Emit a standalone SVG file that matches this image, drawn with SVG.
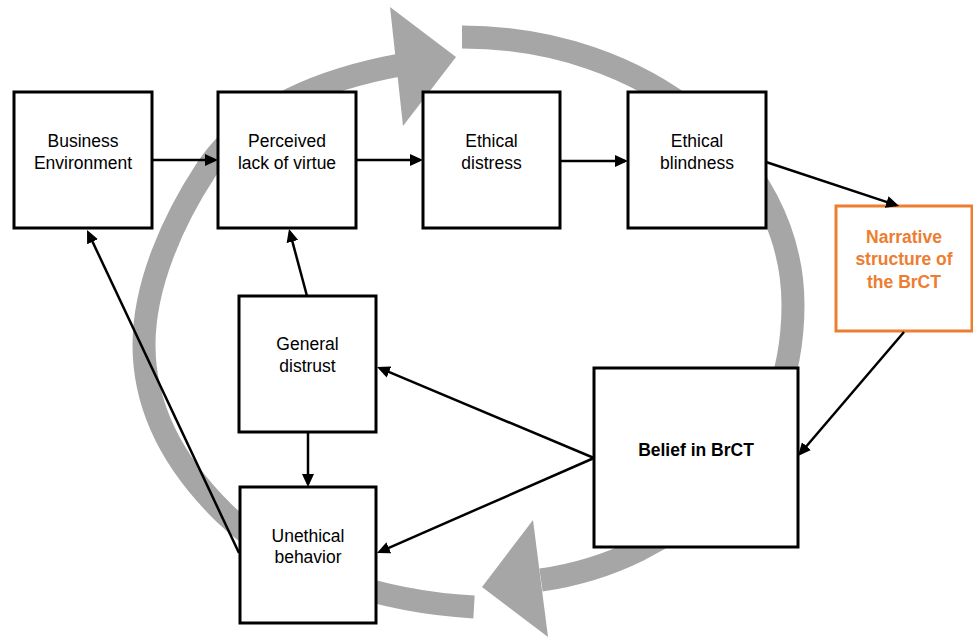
<svg xmlns="http://www.w3.org/2000/svg" width="973" height="638" viewBox="0 0 973 638">
<defs>
<style>
.band{fill:none;stroke:#a6a6a6;stroke-width:23;stroke-linecap:butt}
.head{fill:#a6a6a6}
.box{fill:#fff;stroke:#000;stroke-width:3}
.obox{fill:#fff;stroke:#ed7d31;stroke-width:3}
.t{font-family:"Liberation Sans",Arial,sans-serif;font-size:17.5px;fill:#000;text-anchor:middle}
.b{font-weight:bold}
.o{fill:#ed7d31}
.c{fill:none;stroke:#000;stroke-width:2.5}
</style>
<marker id="ah" markerUnits="userSpaceOnUse" markerWidth="13" markerHeight="12" viewBox="0 0 13 12" refX="10" refY="6" orient="auto">
<path d="M0,0 L13,6 L0,12 z" fill="#000"/>
</marker>
</defs>
<g id="cycle">
<path class="band" d="M462,37 C645,37 793,157 793,305 C793,456 680,560 541,580"/>
<polygon class="head" points="533,520 482,587 548,637"/>
<path class="band" d="M474,607 C386,602 287,574 224,513 C174,464 144,409 144,345 C144,285 173,220 206,170 C247,107 329,78 400,65"/>
<polygon class="head" points="390,7 456,57 403,126"/>
</g>
<g id="business-environment">
<rect class="box" x="14" y="92" width="138" height="136"/>
<text class="t" x="83" y="147">Business</text>
<text class="t" x="83" y="169">Environment</text>
</g>
<g id="perceived-lack-of-virtue">
<rect class="box" x="218" y="92" width="138" height="136"/>
<text class="t" x="287" y="147">Perceived</text>
<text class="t" x="287" y="169">lack of virtue</text>
</g>
<g id="ethical-distress">
<rect class="box" x="423" y="92" width="137" height="136"/>
<text class="t" x="491.5" y="147">Ethical</text>
<text class="t" x="491.5" y="169">distress</text>
</g>
<g id="ethical-blindness">
<rect class="box" x="628" y="92" width="138" height="136"/>
<text class="t" x="697" y="147">Ethical</text>
<text class="t" x="697" y="169">blindness</text>
</g>
<g id="narrative-structure">
<rect class="obox" x="836" y="206" width="136" height="125"/>
<text class="t b o" x="904" y="243">Narrative</text>
<text class="t b o" x="904" y="265">structure of</text>
<text class="t b o" x="904" y="288">the BrCT</text>
</g>
<g id="general-distrust">
<rect class="box" x="239" y="296" width="137" height="136"/>
<text class="t" x="307.5" y="350">General</text>
<text class="t" x="307.5" y="372">distrust</text>
</g>
<g id="unethical-behavior">
<rect class="box" x="240" y="487" width="136" height="136"/>
<text class="t" x="308" y="542">Unethical</text>
<text class="t" x="308" y="563">behavior</text>
</g>
<g id="belief-in-brct">
<rect class="box" x="594" y="368" width="204" height="179"/>
<text class="t b" x="696" y="456">Belief in BrCT</text>
</g>
<g id="connectors">
<line class="c" x1="152" y1="160" x2="215" y2="160" marker-end="url(#ah)"/>
<line class="c" x1="356" y1="160" x2="420" y2="160" marker-end="url(#ah)"/>
<line class="c" x1="560" y1="161" x2="625" y2="161" marker-end="url(#ah)"/>
<line class="c" x1="766" y1="162" x2="896.2" y2="205.1" marker-end="url(#ah)"/>
<line class="c" x1="904" y1="332" x2="800" y2="453.7" marker-end="url(#ah)"/>
<line class="c" x1="594" y1="458" x2="379.8" y2="368.2" marker-end="url(#ah)"/>
<line class="c" x1="594" y1="458" x2="379.7" y2="551.8" marker-end="url(#ah)"/>
<line class="c" x1="307" y1="296" x2="289.8" y2="231.9" marker-end="url(#ah)"/>
<line class="c" x1="308" y1="432" x2="308" y2="484" marker-end="url(#ah)"/>
<line class="c" x1="239" y1="553" x2="88.3" y2="232.7" marker-end="url(#ah)"/>
</g>
</svg>
